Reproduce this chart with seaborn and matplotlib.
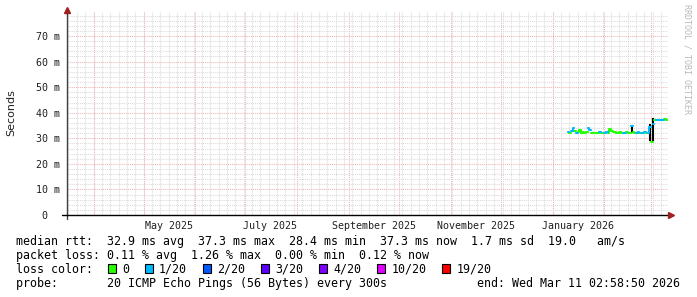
import numpy as np
import pandas as pd
import matplotlib
matplotlib.use("Agg")
import matplotlib.pyplot as plt
import seaborn as sns
from matplotlib.patches import Rectangle

# ---------------- data ----------------
graph_start = pd.Timestamp("2025-03-16 02:58:50")
graph_end = pd.Timestamp("2026-03-11 02:58:50")
data_first_day = "2026-01-10"

median_ms = [32.3, 32.0, 33.0, 34.2, 32.8, 32.0, 32.3, 33.4, 32.0, 32.3,
             32.2, 32.3, 34.0, 33.2, 32.2, 32.2, 32.2, 32.2, 32.2, 32.3,
             32.2, 32.2, 32.2, 32.3, 32.2, 33.5, 33.0, 32.5, 32.3, 32.2,
             32.2, 32.3, 32.2, 32.2, 32.2, 32.3, 32.2, 32.2, 34.8, 32.5,
             32.2, 32.2, 32.3, 32.2, 32.2, 32.2, 32.3, 32.2, 32.2, 34.5,
             28.4, 35.6, 37.0, 37.0, 37.0, 37.1, 37.0, 37.2, 37.5, 37.3]
loss_index = [1, 0, 1, 1, 0, 1, 0, 0, 0, 0,
              0, 0, 1, 1, 0, 0, 0, 0, 0, 1,
              0, 0, 1, 1, 0, 0, 0, 0, 0, 0,
              0, 0, 0, 1, 1, 0, 0, 0, 1, 0,
              0, 1, 1, 0, 1, 1, 1, 0, 1, 1,
              0, 1, 0, 1, 1, 1, 1, 1, 0, 0]

smoke_day = [38, 49, 51]
smoke_lo_ms = [32.0, 28.8, 28.8]
smoke_hi_ms = [35.2, 35.6, 37.8]

loss_labels = ["0", "1/20", "2/20", "3/20", "4/20", "10/20", "19/20"]
loss_colors = ["#26ff00", "#00b8ff", "#0059ff", "#5e00ff", "#7e00ff", "#dd00ff", "#ff0000"]

y_ticks_ms = [0, 10, 20, 30, 40, 50, 60, 70]
y_tick_labels = ["0\u00a0\u00a0", "10 m", "20 m", "30 m", "40 m", "50 m", "60 m", "70 m"]
y_top_ms = 79.4

x_label_months = ["2025-05-01", "2025-07-01", "2025-09-01", "2025-11-01", "2026-01-01"]
x_label_texts = ["May 2025", "July 2025", "September 2025", "November 2025", "January 2026"]

line_rtt = "median rtt:  32.9 ms avg  37.3 ms max  28.4 ms min  37.3 ms now  1.7 ms sd  19.0   am/s"
line_loss = "packet loss: 0.11 % avg  1.26 % max  0.00 % min  0.12 % now"
line_color = "loss color:"
line_probe = "probe:       20 ICMP Echo Pings (56 Bytes) every 300s"
line_end = "end: Wed Mar 11 02:58:50 2026"

# ---------------- style ----------------
sns.set_style("white")
plt.rcParams["font.family"] = ["DejaVu Sans Mono", "DejaVu Sans"]

W, H = 697, 297
fig = plt.figure(figsize=(W / 100, H / 100), dpi=100)
fig.patch.set_facecolor("white")

L, R, T, B = 67, 668, 12, 215
ax = fig.add_axes([L / W, (H - B) / H, (R - L) / W, (B - T) / H])
ax.set_facecolor("white")

# build run-based frame for colored median line
edges = pd.date_range(data_first_day, periods=len(median_ms) + 1, freq="D")
rows = []
run = 0
for i, (v, li) in enumerate(zip(median_ms, loss_index)):
    if i > 0 and li != loss_index[i - 1]:
        run += 1
    rows.append((edges[i], v, run, loss_labels[li]))
    rows.append((edges[i + 1], v, run, loss_labels[li]))
df = pd.DataFrame(rows, columns=["time", "ms", "run", "loss"])

# smoke (black bars)
smoke_x = [edges[d] + pd.Timedelta(hours=10) for d in smoke_day]
ax.vlines(smoke_x, smoke_lo_ms, smoke_hi_ms, color="black", lw=1.5, zorder=2)

sns.lineplot(data=df, x="time", y="ms", units="run", estimator=None, sort=False,
             hue="loss", hue_order=loss_labels,
             palette=dict(zip(loss_labels, loss_colors)),
             legend=False, lw=1.5, ax=ax, zorder=3)

ax.set_xlim(graph_start, graph_end)
ax.set_ylim(0, y_top_ms)
ax.set_xlabel("")
ax.set_ylabel("")

# grids
red_grid = "#f0b4b4"
gray_grid = "#dadada"
dots = (0, (1, 1))
ax.set_axisbelow(True)
ax.set_yticks(y_ticks_ms)
ax.set_yticklabels(y_tick_labels)
ax.set_yticks(np.arange(0, y_top_ms, 2), minor=True)
ax.yaxis.grid(True, which="major", color=red_grid, ls=dots, lw=0.75)
ax.yaxis.grid(True, which="minor", color=gray_grid, ls=dots, lw=0.75)

label_pos = [pd.Timestamp(m) + pd.Timedelta(days=15) for m in x_label_months]
ax.set_xticks(label_pos)
ax.set_xticklabels(x_label_texts)
month_starts = pd.date_range("2025-04-01", graph_end, freq="MS")
ax.set_xticks(month_starts, minor=True)
ax.xaxis.grid(False, which="major")
ax.xaxis.grid(True, which="minor", color=red_grid, ls=dots, lw=0.75)
fine_days = pd.date_range("2025-03-17", graph_end, freq="5D")
ax.vlines(fine_days, 0, 1, transform=ax.get_xaxis_transform(), color=gray_grid,
          ls=dots, lw=0.75, zorder=0.4)

ax.tick_params(axis="both", which="both", length=0, labelsize=7.2, colors="#202020")
ax.tick_params(axis="x", pad=4)
ax.tick_params(axis="y", pad=5)

for s in ax.spines.values():
    s.set_visible(False)

# axes lines with arrows
ah = B - T
aw = R - L
ax.plot([0, 0], [-4 / ah, 1 + 2 / ah], transform=ax.transAxes, color="#404040",
        lw=1.0, clip_on=False, zorder=5)
ax.plot([-5 / aw, 1 + 2 / aw], [0, 0], transform=ax.transAxes, color="black",
        lw=1.0, clip_on=False, zorder=5)
ax.plot([0], [1 + 2 / ah], marker="^", ms=5, color="#a02020", transform=ax.transAxes,
        clip_on=False, zorder=6)
ax.plot([1 + 3 / aw], [0], marker=">", ms=5, color="#a02020", transform=ax.transAxes,
        clip_on=False, zorder=6)

# y label and watermark
fig.text(11 / W, 1 - 113 / H, "Seconds", rotation=90, ha="center", va="center",
         fontsize=8, family="DejaVu Sans", color="#202020")
fig.text(687 / W, 1 - 4 / H, "RRDTOOL / TOBI OETIKER", rotation=270, ha="center",
         va="top", fontsize=6, color="#b8b8b8")

# legend / stats text
fs = 8.4
cw = 7.02
def fy(py):
    return 1 - py / H

base = [245, 259, 273, 287]
fig.text(16 / W, fy(base[0]), line_rtt, fontsize=fs, va="baseline", color="black")
fig.text(16 / W, fy(base[1]), line_loss, fontsize=fs, va="baseline", color="black")
fig.text(16 / W, fy(base[2]), line_color, fontsize=fs, va="baseline", color="black")
fig.text(16 / W, fy(base[3]), line_probe, fontsize=fs, va="baseline", color="black")
fig.text(680 / W, fy(base[3]), line_end, fontsize=fs, va="baseline", ha="right", color="black")

bx = 108.0
for lab, col in zip(loss_labels, loss_colors):
    fig.patches.append(Rectangle((bx / W, fy(base[2])), 8 / W, 9 / H,
                                 transform=fig.transFigure, facecolor=col,
                                 edgecolor="black", lw=0.8))
    tx = bx + 14
    fig.text(tx / W, fy(base[2]), lab, fontsize=fs, va="baseline", color="black")
    bx = tx + len(lab) * cw + 16

fig.savefig("out.png", dpi=100, facecolor="white")
